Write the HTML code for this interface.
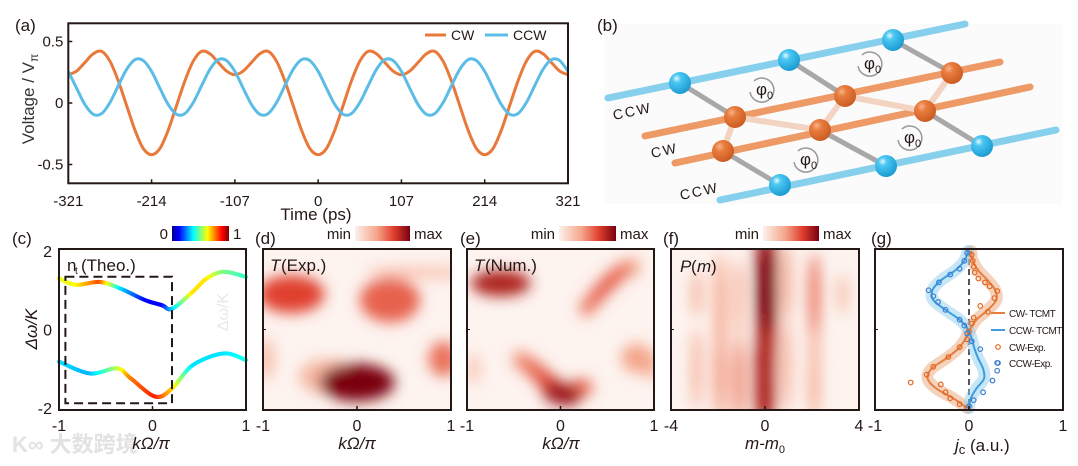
<!DOCTYPE html>
<html><head><meta charset="utf-8"><style>
body{margin:0;background:#fff}
svg{display:block;font-family:"Liberation Sans","Noto Sans CJK SC",sans-serif}
</style></head><body>
<svg id="fig" width="1078" height="466" viewBox="0 0 1078 466" xmlns="http://www.w3.org/2000/svg">
<defs>
<filter id="blur" x="-50%" y="-50%" width="200%" height="200%"><feGaussianBlur stdDeviation="7"/></filter>
<linearGradient id="jetbar" x1="0" x2="1"><stop offset="0" stop-color="#00008f"/><stop offset="0.125" stop-color="#0000ff"/><stop offset="0.375" stop-color="#00ffff"/><stop offset="0.625" stop-color="#ffff00"/><stop offset="0.875" stop-color="#ff0000"/><stop offset="1" stop-color="#800000"/></linearGradient>
<linearGradient id="redbar" x1="0" x2="1"><stop offset="0" stop-color="#fdf1ec"/><stop offset="0.4" stop-color="#f4a58a"/><stop offset="0.7" stop-color="#e0402e"/><stop offset="1" stop-color="#7a0010"/></linearGradient>
<radialGradient id="sb" cx="0.35" cy="0.3" r="0.75"><stop offset="0" stop-color="#e8f8ff"/><stop offset="0.25" stop-color="#4cc8f2"/><stop offset="1" stop-color="#1898d0"/></radialGradient>
<radialGradient id="so" cx="0.35" cy="0.3" r="0.75"><stop offset="0" stop-color="#f6b48a"/><stop offset="0.3" stop-color="#e97c3e"/><stop offset="1" stop-color="#c85a20"/></radialGradient>
<clipPath id="clipa"><rect x="68" y="23" width="500" height="160"/></clipPath>
<clipPath id="clipd"><rect x="263" y="249" width="188" height="161"/></clipPath>
<clipPath id="clipe"><rect x="467" y="249" width="187" height="161"/></clipPath>
<clipPath id="clipf"><rect x="671" y="249" width="188" height="161"/></clipPath>
</defs>
<g id="root"></g>
</svg>
<script>
// ---------- Panel (a) data ----------
const aTimeStart = -321, aTimeStep = 10.7;
const aTicks = [-321, -214, -107, 0, 107, 214, 321];
const aYTicks = [0.5, 0, -0.5];
const aYTickLabels = ["0.5", "0", "-0.5"];
const cwValues = [0.23,0.26,0.33,0.40,0.42,0.34,0.18,-0.02,-0.22,-0.37,-0.42,-0.37,-0.22,-0.02,0.18,0.34,0.42,0.40,0.33,0.26,0.23,0.26,0.33,0.40,0.42,0.34,0.18,-0.02,-0.22,-0.37,-0.42,-0.37,-0.22,-0.02,0.18,0.34,0.42,0.40,0.33,0.26,0.23,0.26,0.33,0.40,0.42,0.34,0.18,-0.02,-0.22,-0.37,-0.42,-0.37,-0.22,-0.02,0.18,0.34,0.42,0.40,0.33,0.26,0.23];
const ccwValues = [0.257,0.120,-0.013,-0.092,-0.086,0.003,0.140,0.273,0.352,0.345,0.257,0.120,-0.013,-0.092,-0.086,0.003,0.140,0.273,0.352,0.345,0.257,0.120,-0.013,-0.092,-0.086,0.003,0.140,0.273,0.352,0.345,0.257,0.120,-0.013,-0.092,-0.086,0.003,0.140,0.273,0.352,0.345,0.257,0.120,-0.013,-0.092,-0.086,0.003,0.140,0.273,0.352,0.345,0.257,0.120,-0.013,-0.092,-0.086,0.003,0.140,0.273,0.352,0.345,0.257];

// ---------- Panel (c) data ----------
const cUpperK = [-1,-0.82,-0.56,-0.34,-0.08,0.10,0.21,0.43,0.58,0.76,1];
const cUpperW = [1.30,1.14,1.21,1.04,0.75,0.62,0.53,0.96,1.30,1.47,1.34];
const cUpperN = [0.6,0.62,0.8,0.35,0.13,0.12,0.3,0.65,0.65,0.5,0.42];
const cLowerK = [-1,-0.67,-0.38,-0.23,0.03,0.21,0.43,0.76,1];
const cLowerW = [-0.82,-1.12,-0.99,-1.25,-1.71,-1.50,-0.91,-0.61,-0.78];
const cLowerN = [0.35,0.3,0.55,0.75,0.85,0.68,0.35,0.35,0.4];
const kTicks = [-1, 0, 1];

// ---------- Panel (d) data: blobs ----------
const dBlobK = [-0.97,-0.3,0.65,0.92,0.35,-0.7,0.0];
const dBlobW = [-0.75,-1.2,1.45,-0.75,0.75,0.9,-1.35];
const dBlobI = [0.25,0.3,0.2,0.55,0.6,0.7,1.0];
const dBlobSK = [0.06,0.2,0.35,0.1,0.2,0.22,0.25];
const dBlobSW = [0.35,0.3,0.12,0.3,0.38,0.32,0.32];

// ---------- Panel (e) data ----------
const eBlobK = [-0.93,0.96,0.81,0.28,0.36,0.44,0.52,0.6,0.68,0.76,-0.42,-0.32,-0.22,-0.12,0.12,0.22,-0.64,-0.02,0.06];
const eBlobW = [-1.0,-0.9,-0.73,0.55,0.78,1.0,1.2,1.38,1.52,1.6,-0.78,-0.95,-1.15,-1.38,-1.62,-1.48,1.18,-1.62,-1.68];
const eBlobI = [0.2,0.35,0.4,0.5,0.58,0.62,0.62,0.6,0.5,0.4,0.45,0.55,0.62,0.72,0.65,0.55,0.85,0.9,0.9];
const eBlobSK = [0.05,0.05,0.1,0.05,0.05,0.05,0.05,0.05,0.05,0.06,0.06,0.06,0.06,0.07,0.08,0.08,0.2,0.1,0.1];
const eBlobSW = [0.25,0.25,0.25,0.15,0.15,0.15,0.15,0.15,0.15,0.15,0.16,0.16,0.16,0.16,0.16,0.16,0.22,0.18,0.18];

// ---------- Panel (f) data ----------
const fBlobM = [-2.9,-2.9,-1.1,3.3,-1.9,-1.9,-1.1,0.9,0.9,2.1,2.1,2.1,-1.1,0.05,0.05,0.0,0.0,0.05];
const fBlobW = [0.9,-1.0,-0.2,0.9,0.6,-1.1,0.9,1.2,-0.9,-0.3,-1.4,0.9,-1.3,0,1.6,-0.9,-1.6,0.9];
const fBlobI = [0.3,0.3,0.2,0.25,0.4,0.45,0.3,0.35,0.3,0.3,0.35,0.55,0.5,0.75,0.9,0.85,0.85,1.0];
const fBlobSW = [0.4,0.7,0.7,0.35,0.9,0.8,0.6,0.7,0.8,0.7,0.6,0.7,0.7,1.0,0.7,0.8,0.6,0.7];
const mTicks = [-4, 0, 4];

// ---------- Panel (g) data ----------
const gCurveY = [2,1.75,1.5,1.25,1.0,0.75,0.5,0.25,0,-0.25,-0.5,-0.75,-1.0,-1.25,-1.5,-1.75,-2];
const gCwX = [0.02,0.04,0.1,0.2,0.28,0.29,0.2,0.08,0.01,-0.04,-0.12,-0.25,-0.4,-0.44,-0.35,-0.17,-0.02];
const gCcwX = [-0.01,-0.05,-0.15,-0.3,-0.39,-0.38,-0.25,-0.1,-0.01,0.03,0.06,0.1,0.15,0.16,0.08,0.02,0.0];
const gCwExpX = [0.03,0.04,0.05,0.06,0.1,0.17,0.22,0.3,0.27,0.12,0.2,0.05,0.03,0.0,-0.02,-0.1,-0.22,-0.38,-0.45,-0.62,-0.3,-0.25,-0.2,-0.1,-0.02];
const gCwExpY = [1.9,1.75,1.6,1.45,1.3,1.2,1.1,0.98,0.8,0.6,0.45,0.3,0.15,-0.05,-0.25,-0.45,-0.7,-0.95,-1.15,-1.35,-1.4,-1.6,-1.75,-1.9,-2.0];
const gCcwExpX = [-0.02,-0.05,-0.1,-0.2,-0.32,-0.43,-0.38,-0.33,-0.25,-0.1,-0.05,-0.02,0.03,0.12,0.3,0.3,0.25,0.15,0.05,0.0];
const gCcwExpY = [1.95,1.75,1.55,1.4,1.2,1.0,0.85,0.7,0.5,0.25,0.1,-0.1,-0.3,-0.5,-0.85,-1.05,-1.3,-1.6,-1.8,-1.95];

const NS = "http://www.w3.org/2000/svg";
const root = document.getElementById('root');
function mk(tag, attrs, parent, name, inter){
  const e = document.createElementNS(NS, tag);
  for (const k in attrs) e.setAttribute(k, attrs[k]);
  
  
  (parent || root).appendChild(e);
  return e;
}
function txt(x, y, s, size, name, extra){
  const a = Object.assign({x:x, y:y, 'font-size':size, fill:'#231815'}, extra||{});
  const t = mk('text', a, null, name, false);
  t.textContent = s;
  return t;
}
function catmull(pts){
  let d = 'M' + pts[0][0] + ',' + pts[0][1];
  for (let i = 0; i < pts.length - 1; i++){
    const p0 = pts[i-1] || pts[i], p1 = pts[i], p2 = pts[i+1], p3 = pts[i+2] || pts[i+1];
    const c1 = [p1[0] + (p2[0]-p0[0])/6, p1[1] + (p2[1]-p0[1])/6];
    const c2 = [p2[0] - (p3[0]-p1[0])/6, p2[1] - (p3[1]-p1[1])/6];
    d += 'C' + c1[0].toFixed(2) + ',' + c1[1].toFixed(2) + ' ' + c2[0].toFixed(2) + ',' + c2[1].toFixed(2) + ' ' + p2[0].toFixed(2) + ',' + p2[1].toFixed(2);
  }
  return d;
}
function catPoint(pts, i, t){
  const p0 = pts[i-1] || pts[i], p1 = pts[i], p2 = pts[i+1], p3 = pts[i+2] || pts[i+1];
  const t2 = t*t, t3 = t2*t;
  return [0,1].map(j => 0.5*((2*p1[j]) + (-p0[j]+p2[j])*t + (2*p0[j]-5*p1[j]+4*p2[j]-p3[j])*t2 + (-p0[j]+3*p1[j]-3*p2[j]+p3[j])*t3));
}
function clamp(v){ return Math.max(0, Math.min(1, v)); }
function jet(v){
  const r = clamp(1.5 - Math.abs(4*v - 3)), g = clamp(1.5 - Math.abs(4*v - 2)), b = clamp(1.5 - Math.abs(4*v - 1));
  return 'rgb(' + Math.round(r*255) + ',' + Math.round(g*255) + ',' + Math.round(b*255) + ')';
}
const heatStops = [[0,[253,241,236]],[0.4,[244,165,138]],[0.7,[224,64,46]],[1,[122,0,16]]];
function heat(v){
  for (let i = 0; i < heatStops.length - 1; i++){
    const a = heatStops[i], b = heatStops[i+1];
    if (v <= b[0]){ const t = (v - a[0])/(b[0]-a[0]); return 'rgb(' + a[1].map((c,j)=>Math.round(c + (b[1][j]-c)*t)).join(',') + ')'; }
  }
  return 'rgb(122,0,16)';
}

// =============== Panel (a) ===============
const ax0 = 68.3, ax1 = 568, ay0 = 23.3, ay1 = 183.3;
const aX = t => ax0 + (t + 321) / 642 * (ax1 - ax0);
const aY = v => 103 - v / 0.5 * 61.5;
txt(15, 31, '(a)', 17, 'panel-a-label');
const ga = mk('g', {'clip-path':'url(#clipa)'}, null, 'panel-a-series', false);
const cwPts = cwValues.map((v,i) => [aX(aTimeStart + i*aTimeStep), aY(v)]);
const ccwPts = ccwValues.map((v,i) => [aX(aTimeStart + i*aTimeStep), aY(v)]);
mk('path', {d: catmull(cwPts), fill:'none', stroke:'#E8793A', 'stroke-width':3}, ga, 'cw-voltage-line', false);
mk('path', {d: catmull(ccwPts), fill:'none', stroke:'#5BBDE6', 'stroke-width':3}, ga, 'ccw-voltage-line', false);
mk('rect', {x:ax0, y:ay0, width:ax1-ax0, height:ay1-ay0, fill:'none', stroke:'#231815', 'stroke-width':2}, null, 'panel-a-frame', false);
aTicks.forEach(t => {
  mk('line', {x1:aX(t), x2:aX(t), y1:ay1, y2:ay1-4, stroke:'#231815', 'stroke-width':1.5}, null, 'x-tick-a', false);
  txt(aX(t), 206, String(t), 15, 'x-tick-label-a', {'text-anchor':'middle'});
});
aYTicks.forEach((v,i) => {
  mk('line', {x1:ax0, x2:ax0+4, y1:aY(v), y2:aY(v), stroke:'#231815', 'stroke-width':1.5}, null, 'y-tick-a', false);
  txt(ax0-5, aY(v)+5, aYTickLabels[i], 15, 'y-tick-label-a', {'text-anchor':'end'});
});
txt(316, 220, 'Time (ps)', 17, 'x-axis-title-a', {'text-anchor':'middle'});
const yl = txt(0, 0, 'Voltage / V', 17, 'y-axis-title-a', {'text-anchor':'middle', transform:'translate(34,99) rotate(-90)', fill:'#333'});
const sub = document.createElementNS(NS,'tspan'); sub.setAttribute('font-size','12'); sub.setAttribute('dy','4'); sub.textContent = 'π'; yl.appendChild(sub);
mk('line', {x1:425, x2:446, y1:35, y2:35, stroke:'#E8793A', 'stroke-width':3}, null, 'legend-cw-swatch', false);
txt(451, 40, 'CW', 14, 'legend-cw-label');
mk('line', {x1:485, x2:508, y1:35, y2:35, stroke:'#5BBDE6', 'stroke-width':3}, null, 'legend-ccw-swatch', false);
txt(513, 40, 'CCW', 14, 'legend-ccw-label');

// =============== Panel (b) schematic ===============
mk('rect', {x:604, y:24, width:458, height:180, fill:'#fbfbfb'}, null, 'schematic-background', false);
txt(597, 31, '(b)', 17, 'panel-b-label');
const gb = mk('g', {}, null, 'lattice-schematic', false);
const tube = (x1,y1,x2,y2,c,w,n) => mk('line', {x1,y1,x2,y2,stroke:c,'stroke-width':w,'stroke-linecap':'round'}, gb, n, false);
tube(608,98,965,24,'#86d0ee',7,'ccw-waveguide-top');
tube(720,200,1056,130,'#86d0ee',7,'ccw-waveguide-bottom');
tube(645,136,1000,62,'#ee9a66',7,'cw-waveguide-upper');
tube(675,163,1030,87,'#ee9a66',7,'cw-waveguide-lower');
[[680,83,735,117],[789,60,845,96],[893,40,952,73],[723,151,780,185],[820,130,886,166],[925,111,982,146]].forEach(l => tube(l[0],l[1],l[2],l[3],'#a8a8a8',5,'coupling-link'));
[[735,117,723,151],[735,117,820,130],[845,96,820,130],[845,96,925,111],[952,73,925,111]].forEach(l => tube(l[0],l[1],l[2],l[3],'#f3d4c2',6,'cw-coupling-link'));
[[680,83],[789,60],[893,40],[780,185],[886,166],[982,146]].forEach(p => mk('circle', {cx:p[0], cy:p[1], r:11, fill:'url(#sb)'}, gb, 'ccw-resonator', false));
[[735,117],[845,96],[952,73],[723,151],[820,130],[925,111]].forEach(p => mk('circle', {cx:p[0], cy:p[1], r:11, fill:'url(#so)'}, gb, 'cw-resonator', false));
[[762,90],[870,64],[806,160],[910,138]].forEach(p => {
  mk('path', {d:'M'+(p[0]-8)+','+(p[1]-9)+' A12,12 0 1,1 '+(p[0]-12)+','+(p[1]+2), fill:'none', stroke:'#999', 'stroke-width':1.5}, gb, 'phase-arrow', false);
  const t = txt(p[0]-6, p[1]+5, 'φ', 17, 'phase-label'); const s = document.createElementNS(NS,'tspan'); s.setAttribute('font-size','11'); s.setAttribute('dy','4'); s.textContent='0'; t.appendChild(s);
});
txt(614, 120, 'CCW', 14, 'ccw-top-label', {transform:'rotate(-12 614 120)', 'letter-spacing':'2'});
txt(652, 158, 'CW', 14, 'cw-label', {transform:'rotate(-12 652 158)', 'letter-spacing':'2'});
txt(681, 200, 'CCW', 14, 'ccw-bottom-label', {transform:'rotate(-12 681 200)', 'letter-spacing':'2'});

// =============== bottom panels common ===============
const by0 = 249, by1 = 410;
const bY = w => 251 + (2 - w) / 4 * 157;
function kX(x0, x1){ return k => x0 + (k + 1) / 2 * (x1 - x0); }
function frame(x0, x1, name){ mk('rect', {x:x0, y:by0, width:x1-x0, height:by1-by0, fill:'none', stroke:'#231815', 'stroke-width':2}, null, name, false); }
function xticks(X, vals, labels, name){
  vals.forEach((v,i) => {
    mk('line', {x1:X(v), x2:X(v), y1:by1, y2:by1-4, stroke:'#231815', 'stroke-width':1.5}, null, name+'-tick', false);
    txt(X(v), 431, labels[i], 16, name+'-tick-label', {'text-anchor':'middle'});
  });
}
function heatPanel(x0, x1, clip, X, bx, bw, bi, sx, sw, name){
  mk('rect', {x:x0, y:by0, width:x1-x0, height:by1-by0, fill:'#fdf3ef'}, null, name+'-background', false);
  const g = mk('g', {'clip-path':'url(#'+clip+')'}, null, name+'-heatmap', false);
  const gi = mk('g', {filter:'url(#blur)'}, g, name+'-blobs', false);
  const idx = bi.map((v,i)=>i).sort((a,b)=>bi[a]-bi[b]);
  idx.forEach(i => {
    const rx = Math.abs(X(bx[i] + sx[i]) - X(bx[i])) * 1.6;
    mk('ellipse', {cx:X(bx[i]), cy:bY(bw[i]), rx:rx, ry:sw[i]*157/4*1.5, fill:heat(bi[i])}, gi, name+'-intensity-cell', false);
  });
}
function colorbar(x0, x1, lblMin, lblMax, fill, name, fs){
  mk('rect', {x:x0, y:226, width:x1-x0, height:15, fill:fill}, null, name, false);
  txt(x0-4, 239, lblMin, fs||15, name+'-min-label', {'text-anchor':'end'});
  txt(x1+4, 239, lblMax, fs||15, name+'-max-label');
}

// =============== Panel (c) ===============
const cX = kX(59, 246);
txt(12, 244, '(c)', 17, 'panel-c-label');
colorbar(172, 229, '0', '1', 'url(#jetbar)', 'colorbar-c', 15);
txt(228, 312, 'Δω/K', 16, 'ghost-label', {transform:'rotate(-90 228 312)', fill:'#e8e8e8', 'text-anchor':'middle'});
function bandCurve(K, W, N, name){
  const pts = K.map((k,i) => [cX(k), bY(W[i])]);
  const g = mk('g', {}, null, name, false);
  for (let i = 0; i < pts.length - 1; i++){
    const steps = 12;
    let prev = pts[i];
    for (let s = 1; s <= steps; s++){
      const t = s/steps, p = catPoint(pts, i, t);
      const nv = N[i] + (N[i+1]-N[i]) * (t - 0.5/steps);
      mk('line', {x1:prev[0], y1:prev[1], x2:p[0], y2:p[1], stroke:jet(nv), 'stroke-width':4, 'stroke-linecap':'round'}, g, name+'-segment', false);
      prev = p;
    }
  }
}
bandCurve(cUpperK, cUpperW, cUpperN, 'upper-band');
bandCurve(cLowerK, cLowerW, cLowerN, 'lower-band');
mk('rect', {x:65.4, y:276.7, width:106.6, height:126.5, fill:'none', stroke:'#231815', 'stroke-width':2, 'stroke-dasharray':'9,5'}, null, 'brillouin-zone-box', false);
frame(59, 246, 'panel-c-frame');
txt(67, 271, 'n', 17, 'panel-c-title');
txt(75, 274, 't', 10, 'panel-c-title-sub');
txt(81, 271, '(Theo.)', 17, 'panel-c-title-rest');
[2,0,-2].forEach(v => txt(52, bY(v)+6, String(v), 16, 'y-tick-label-c', {'text-anchor':'end'}));
xticks(cX, kTicks, ['-1','0','1'], 'x-c');
txt(0, 0, 'Δω/K', 17, 'y-axis-title-c', {'text-anchor':'middle', transform:'translate(37,329) rotate(-90)', 'font-style':'italic'});
txt(12, 452, 'K∞ 大数跨境', 22, 'watermark', {fill:'#e2e2e2', 'font-weight':'bold'});
txt(151, 449, 'kΩ/π', 17, 'x-axis-title-c', {'text-anchor':'middle', 'font-style':'italic'});

// =============== Panel (d) ===============
const dX = kX(263, 451);
txt(255, 244, '(d)', 17, 'panel-d-label');
colorbar(355, 410, 'min', 'max', 'url(#redbar)', 'colorbar-d');
heatPanel(263, 451, 'clipd', dX, dBlobK, dBlobW, dBlobI, dBlobSK, dBlobSW, 'panel-d');
frame(263, 451, 'panel-d-frame');
mk('line', {x1:263, x2:266, y1:bY(0), y2:bY(0), stroke:'#231815'}, null, 'y-tick-d', false);
txt(270, 271, 'T', 17, 'panel-d-title-T', {'font-style':'italic'}); txt(281, 271, '(Exp.)', 17, 'panel-d-title');
xticks(dX, kTicks, ['-1','0','1'], 'x-d');
txt(357, 449, 'kΩ/π', 17, 'x-axis-title-d', {'text-anchor':'middle', 'font-style':'italic'});

// =============== Panel (e) ===============
const eX = kX(467, 654);
txt(460, 244, '(e)', 17, 'panel-e-label');
colorbar(559, 616, 'min', 'max', 'url(#redbar)', 'colorbar-e');
heatPanel(467, 654, 'clipe', eX, eBlobK, eBlobW, eBlobI, eBlobSK, eBlobSW, 'panel-e');
frame(467, 654, 'panel-e-frame');
mk('line', {x1:467, x2:470, y1:bY(0), y2:bY(0), stroke:'#231815'}, null, 'y-tick-e', false);
txt(474, 271, 'T', 17, 'panel-e-title-T', {'font-style':'italic'}); txt(485, 271, '(Num.)', 17, 'panel-e-title');
xticks(eX, kTicks, ['-1','0','1'], 'x-e');
txt(561, 449, 'kΩ/π', 17, 'x-axis-title-e', {'text-anchor':'middle', 'font-style':'italic'});

// =============== Panel (f) ===============
const fX = m => 671 + (m + 4) / 8 * 188;
txt(663, 244, '(f)', 17, 'panel-f-label');
colorbar(763, 819, 'min', 'max', 'url(#redbar)', 'colorbar-f');
const fSK = fBlobM.map((m,i) => fBlobI[i] > 0.7 ? 0.28 : 0.15);
heatPanel(671, 859, 'clipf', m => fX(m) , fBlobM, fBlobW, fBlobI, fSK, fBlobSW, 'panel-f');
frame(671, 859, 'panel-f-frame');
mk('line', {x1:671, x2:674, y1:bY(0), y2:bY(0), stroke:'#231815'}, null, 'y-tick-f', false);
txt(680, 272, 'P', 17, 'panel-f-title-P', {'font-style':'italic'}); txt(691, 272, '(', 17, 'panel-f-title-open');
txt(697, 272, 'm', 17, 'panel-f-title-m', {'font-style':'italic'}); txt(711, 272, ')', 17, 'panel-f-title-close');
xticks(fX, mTicks, ['-4','0','4'], 'x-f');
const fl = txt(765, 449, 'm-m', 17, 'x-axis-title-f', {'text-anchor':'middle', 'font-style':'italic'});
const fs0 = document.createElementNS(NS,'tspan'); fs0.setAttribute('font-size','11'); fs0.setAttribute('dy','4'); fs0.setAttribute('font-style','normal'); fs0.textContent='0'; fl.appendChild(fs0);

// =============== Panel (g) ===============
const gX = kX(875, 1063);
txt(871, 244, '(g)', 17, 'panel-g-label');
mk('line', {x1:gX(0), x2:gX(0), y1:by0, y2:by1, stroke:'#555', 'stroke-width':2, 'stroke-dasharray':'6,4'}, null, 'zero-line', false);
const cwP = gCurveY.map((y,i) => [gX(gCwX[i]), bY(y)]);
const ccwP = gCurveY.map((y,i) => [gX(gCcwX[i]), bY(y)]);
mk('path', {d:catmull(cwP), fill:'none', stroke:'#e9a57a', 'stroke-width':12, opacity:0.5, 'stroke-linecap':'round'}, null, 'cw-tcmt-band', false);
mk('path', {d:catmull(ccwP), fill:'none', stroke:'#8fcdee', 'stroke-width':12, opacity:0.5, 'stroke-linecap':'round'}, null, 'ccw-tcmt-band', false);
mk('path', {d:catmull(cwP), fill:'none', stroke:'#e67e3e', 'stroke-width':2}, null, 'cw-tcmt-line', false);
mk('path', {d:catmull(ccwP), fill:'none', stroke:'#3a9ee0', 'stroke-width':2}, null, 'ccw-tcmt-line', false);
gCwExpX.forEach((x,i) => mk('circle', {cx:gX(x), cy:bY(gCwExpY[i]), r:2.3, fill:'none', stroke:'#e4661e', 'stroke-width':1.2}, null, 'cw-exp-point', false));
gCcwExpX.forEach((x,i) => mk('circle', {cx:gX(x), cy:bY(gCcwExpY[i]), r:2.3, fill:'none', stroke:'#3f7fd0', 'stroke-width':1.2}, null, 'ccw-exp-point', false));
frame(875, 1063, 'panel-g-frame');
mk('line', {x1:875, x2:878, y1:bY(0), y2:bY(0), stroke:'#231815'}, null, 'y-tick-g', false);
mk('line', {x1:991, x2:1005, y1:313, y2:313, stroke:'#e67e3e', 'stroke-width':2}, null, 'legend-cw-tcmt-swatch', false);
txt(1009, 317, 'CW- TCMT', 10, 'legend-cw-tcmt-label', {'letter-spacing':'-0.5'});
mk('line', {x1:991, x2:1005, y1:330, y2:330, stroke:'#3a9ee0', 'stroke-width':2}, null, 'legend-ccw-tcmt-swatch', false);
txt(1009, 334, 'CCW- TCMT', 10, 'legend-ccw-tcmt-label', {'letter-spacing':'-0.5'});
mk('circle', {cx:998, cy:347, r:2.3, fill:'none', stroke:'#e4661e', 'stroke-width':1.2}, null, 'legend-cw-exp-marker', false);
txt(1009, 351, 'CW-Exp.', 10, 'legend-cw-exp-label', {'letter-spacing':'-0.5'});
mk('circle', {cx:998, cy:363, r:2.3, fill:'none', stroke:'#3f7fd0', 'stroke-width':1.2}, null, 'legend-ccw-exp-marker', false);
txt(1009, 367, 'CCW-Exp.', 10, 'legend-ccw-exp-label', {'letter-spacing':'-0.5'});
xticks(gX, kTicks, ['-1','0','1'], 'x-g');
const gl = txt(955, 451, 'j', 17, 'x-axis-title-g', {'font-style':'italic'});
const gs = document.createElementNS(NS,'tspan'); gs.setAttribute('font-size','13'); gs.setAttribute('dy','3'); gs.setAttribute('font-style','normal'); gs.textContent='c'; gl.appendChild(gs);
const gs2 = document.createElementNS(NS,'tspan'); gs2.setAttribute('dy','-3'); gs2.setAttribute('font-style','normal'); gs2.textContent=' (a.u.)'; gl.appendChild(gs2);
</script>
</body></html>
